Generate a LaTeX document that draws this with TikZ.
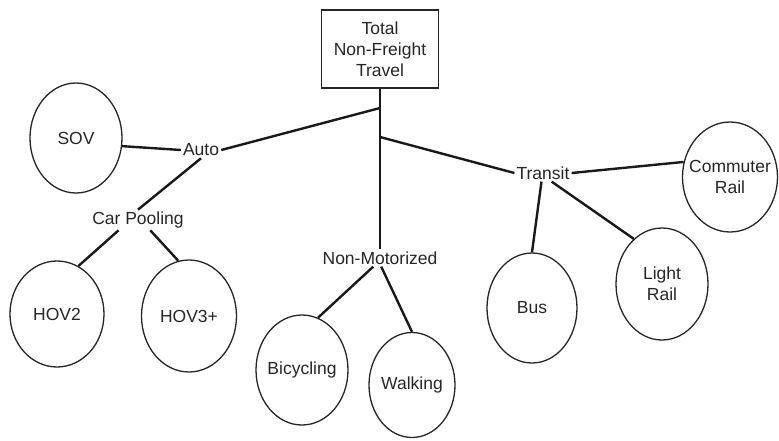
\documentclass[tikz,border=0pt]{standalone}
\usepackage{fontspec}
\setmainfont{Liberation Sans}
\usetikzlibrary{shapes.geometric}

\begin{document}
\begin{tikzpicture}[
  x=1pt, y=-1pt,
  font=\fontsize{17.5}{21}\selectfont,
  every node/.style={text=black!85},
  link/.style={line width=2.4pt, draw=black!90},
  branch/.style={inner sep=2pt},
  mode/.style={ellipse, draw=black!85, line width=1.3pt,
               minimum width=92pt, minimum height=110pt, inner sep=0pt,
               label={[align=center]center:#1}},
  root/.style={rectangle, draw=black!85, line width=1.3pt,
               minimum width=117pt, minimum height=78pt, align=center},
]

\useasboundingbox (0,0) rectangle (779,440);

% root and trunk
\node[root] (total) at (380,49) {Total\\Non-Freight\\Travel};
\node[branch] (nonmot) at (380,258) {Non-Motorized};
\coordinate (jauto) at (380,108);
\coordinate (jtransit) at (380,137);

% auto side
\node[branch] (auto) at (201,150) {Auto};
\node[branch] (carpool) at (138,220) {Car Pooling};
\node[mode=SOV] (sov) at (76,138) {};
\node[mode=HOV2, minimum width=94pt, minimum height=106pt] (hov2) at (57,314) {};
\node[mode=HOV3+, minimum width=95pt, minimum height=112pt] (hov3) at (189,316) {};

% non-motorized side
\node[mode=Bicycling] (bike) at (302,370) {};
\node[mode=Walking, minimum width=86pt, minimum height=105pt] (walk) at (412,385) {};

% transit side
\node[branch] (transit) at (543,173) {Transit};
\node[mode=Bus, minimum width=90pt] (bus) at (532,308) {};
\node[mode={Light\\Rail}, minimum height=112pt] (light) at (662,284) {};
\node[mode={Commuter\\Rail}, minimum width=95pt] (comm) at (730,177) {};

% connectors
\draw[link] (total.south) -- (nonmot.north);
\draw[link] (sov.-10) -- (auto.west);
\draw[link] (auto.east) -- (jauto);
\draw[link] (auto.south) -- (carpool.north);
\draw[link] (carpool.-152) -- (hov2.66);
\draw[link] (carpool.-40) -- (hov3.101);
\draw[link] (nonmot.-128) -- (bike.73);
\draw[link] (nonmot.-82) -- (walk.north);
\draw[link] (jtransit) -- (transit.west);
\draw[link] (transit.east) -- (comm.162);
\draw[link] (transit.-100) -- (bus.north);
\draw[link] (transit.-45) -- (light.122);

\end{tikzpicture}
\end{document}
